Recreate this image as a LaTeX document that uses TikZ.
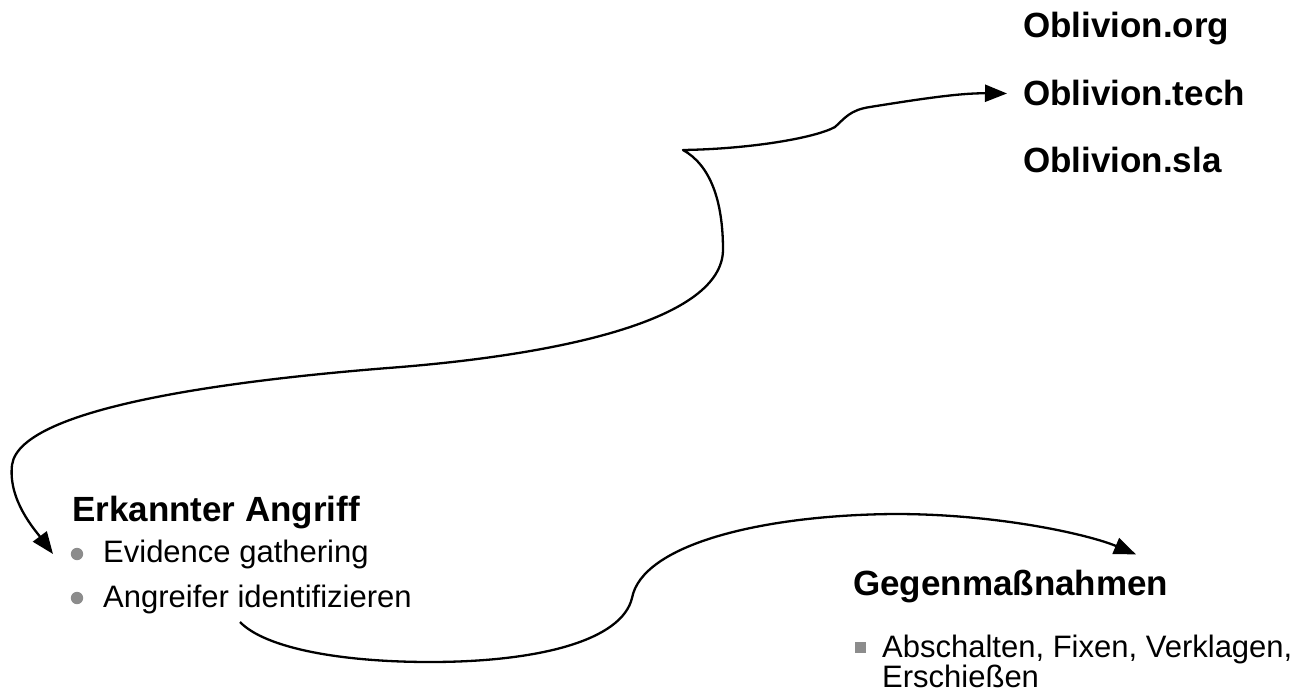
\documentclass[tikz,border=0pt]{standalone}
\usepackage{fontspec}
\setmainfont{Liberation Sans}
\usetikzlibrary{arrows.meta,calc}
\definecolor{bulletgray}{gray}{0.55}
\begin{document}
\begin{tikzpicture}[x=1pt,y=-1pt,
  head/.style={font=\fontsize{35}{42}\selectfont\bfseries, anchor=base west, inner sep=0pt},
  item/.style={font=\fontsize{31}{36}\selectfont, anchor=base west, inner sep=0pt},
  conn/.style={line width=2.3pt, line join=round},
  bullet/.style={fill=bulletgray, draw=none},
  headtip/.tip={Triangle[length=22pt,width=17pt]},
]
\useasboundingbox (0,0) rectangle (1297,692);

% domain list, top right
\node[head] (org)  at (1023,38)  {Oblivion.org};
\node[head] (tech) at (1023,106) {Oblivion.tech};
\node[head] (sla)  at (1023,173) {Oblivion.sla};

% detected attack
\node[head] (erk) at (72,521)  {Erkannter Angriff};
\node[item] (ev)  at (103,562) {Evidence gathering};
\node[item] (ang) at (103,607) {Angreifer identifizieren};
\fill[bullet] (77,554) circle (6.2);
\fill[bullet] (77,598) circle (6.2);

% countermeasures
\node[head] (geg) at (853,595) {Gegenmaßnahmen};
\node[item] (ab1) at (882,657) {Abschalten, Fixen, Verklagen,};
\node[item] (ab2) at (882,687) {Erschießen};
\fill[bullet] (854.5,641.5) rectangle (865.5,652.5);

% connector end points
\coordinate (a1) at ($(ev.west)+(-50,0)$);
\coordinate (a2) at ($(tech.west)+(-16,0)$);
\coordinate (b1) at ($(ang.base west)+(137,15)$);
\coordinate (b2) at ($(geg.north west)+(283,-15)$);

% long curve between the domains and the detected attack
\draw[conn, headtip-headtip] (a1)
  .. controls (35,530) and (8,500) .. (12,465)
  .. controls (20,405) and (250,379) .. (388,368)
  .. controls (560,355) and (722,320) .. (723,250)
  .. controls (723,200) and (710,165) .. (683,150)
  .. controls (750,149) and (815,138) .. (835,127)
  .. controls (845,118) and (850,110) .. (870,107)
  .. controls (920,99) and (960,93) .. (a2);

% curve from the attacker to the countermeasures
\draw[conn, -headtip] (b1)
  .. controls (265,648) and (340,662) .. (430,662)
  .. controls (540,662) and (622,640) .. (632,598)
  .. controls (642,545) and (760,515) .. (895,514)
  .. controls (1000,514) and (1090,535) .. (b2);
\end{tikzpicture}
\end{document}
